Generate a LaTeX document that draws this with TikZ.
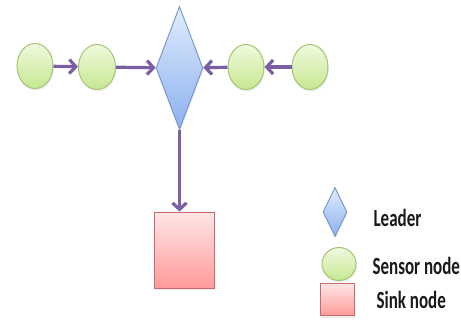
\documentclass[tikz,border=0pt]{standalone}
\usepackage{fontspec}
\setmainfont{Carlito}
\usetikzlibrary{shapes.geometric,arrows.meta,shadows}

\definecolor{sensorTop}{HTML}{F0F9DE}
\definecolor{sensorBot}{HTML}{C6E891}
\definecolor{sensorLine}{HTML}{A6C476}
\definecolor{leaderTop}{HTML}{E0EBFC}
\definecolor{leaderBot}{HTML}{8BB1EE}
\definecolor{leaderLine}{HTML}{7393CB}
\definecolor{sinkTop}{HTML}{FFE6E6}
\definecolor{sinkBot}{HTML}{FF9A9A}
\definecolor{sinkLine}{HTML}{C86A6A}
\definecolor{linkColor}{HTML}{7A5FA5}
\definecolor{labelColor}{HTML}{1A1A1A}

\tikzset{
  softshadow/.style={drop shadow={opacity=0.12, shadow xshift=0.8pt, shadow yshift=-2pt}},
  sensor/.style={ellipse, inner sep=0pt, draw=sensorLine, line width=1pt,
    top color=sensorTop, bottom color=sensorBot, softshadow},
  leader/.style={diamond, inner sep=0pt, draw=leaderLine, line width=0.9pt,
    top color=leaderTop, bottom color=leaderBot, softshadow},
  sink/.style={rectangle, inner sep=0pt, draw=sinkLine, line width=0.9pt,
    top color=sinkTop, bottom color=sinkBot, softshadow},
  link/.style={draw=linkColor, line width=3.2pt,
    -{Straight Barb[length=6.5pt,width=14pt]}},
  legendtext/.style={anchor=west, text=labelColor,
    font=\bfseries\fontsize{17}{20}\selectfont}
}

\begin{document}
\begin{tikzpicture}[x=1pt,y=-1pt]
\useasboundingbox[fill=white] (0,0) rectangle (461,333);

% sensor chain and leader
\node[sensor, minimum width=36pt, minimum height=45pt] (s1) at (35,66) {};
\node[sensor, minimum width=37pt, minimum height=45pt] (s2) at (97,67) {};
\node[leader, minimum width=47pt, minimum height=123pt] (ld) at (179.5,68) {};
\node[sensor, minimum width=36pt, minimum height=45pt] (s3) at (246,67) {};
\node[sensor, minimum width=36pt, minimum height=45pt] (s4) at (310,67) {};

% sink
\node[sink, minimum width=60pt, minimum height=76pt] (sk) at (184,250) {};

% links
\draw[link] (s1) -- (s2);
\draw[link] (s2) -- (ld);
\draw[link] (s3) -- (ld);
\draw[link] (s4) -- (s3);
\draw[link] (ld.south) -- (ld.south |- sk.north);

% legend
\node[leader, minimum width=24pt, minimum height=49pt] (kl) at (335,212) {};
\node[sensor, minimum width=34pt, minimum height=33pt] (ks) at (339,264) {};
\node[sink, minimum width=34pt, minimum height=32pt] (kk) at (337.5,299.5) {};
\node[legendtext] (tl) at (370,218) {\scalebox{1}[1.45]{Leader}};
\node[legendtext] (ts) at (369,266) {\scalebox{1}[1.45]{Sensor node}};
\node[legendtext] (tk) at (373,300) {\scalebox{1}[1.45]{Sink node}};
\end{tikzpicture}
\end{document}
